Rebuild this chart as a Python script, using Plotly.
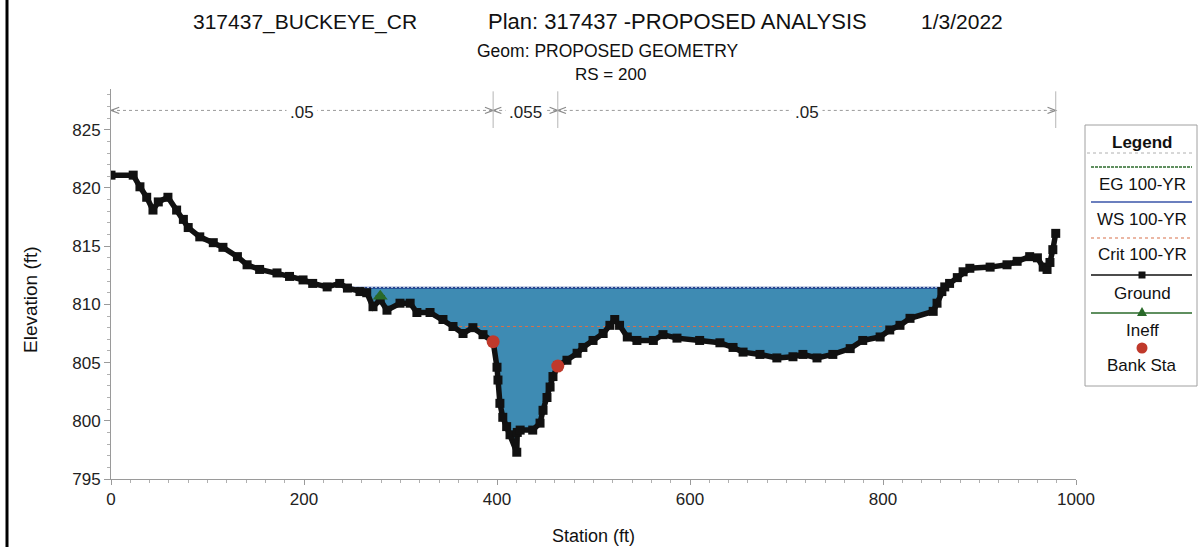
import numpy as np
import plotly.graph_objects as go

# ---- Cross-section data (RS = 200) ----
station = [0, 23, 30, 37, 43.5, 49, 59, 68, 75, 80, 92, 106, 116, 131, 141, 154, 172, 185,
           199, 209, 224, 237, 245, 258, 265, 271.5, 279, 286, 299.5, 310, 317, 330.6, 344,
           354.4, 364.8, 375, 385.5, 396, 400, 401, 403, 406, 410, 413.5, 420.5, 421, 424,
           437, 444.6, 447.7, 451.8, 455, 458, 463, 472.5, 483, 489, 499.5, 510, 517, 522,
           527, 535, 545, 562, 572, 586.5, 610, 631, 644.6, 655, 672.5, 690, 706.7, 717,
           731.6, 748, 766, 779, 797, 807, 817.6, 828, 852, 856, 861, 864, 869, 877, 883,
           890, 911, 928.5, 939, 952, 960, 966, 970, 973, 976, 979]
ground = [821.1, 821.1, 820.1, 819.2, 818.1, 818.8, 819.2, 818.1, 817.3, 816.6, 815.8, 815.3,
          814.9, 814.1, 813.4, 813.0, 812.7, 812.4, 812.1, 811.8, 811.5, 811.8, 811.4, 811.1,
          811.0, 809.8, 810.4, 809.5, 810.1, 810.1, 809.3, 809.3, 808.7, 808.1, 807.5, 808.0,
          807.4, 806.8, 804.6, 803.5, 801.5, 800.3, 799.5, 798.8, 797.3, 799.0, 799.2, 799.2,
          799.8, 800.9, 802.0, 802.9, 803.8, 804.7, 805.2, 805.8, 806.3, 806.9, 807.5, 808.2,
          808.7, 808.2, 807.2, 806.9, 806.9, 807.4, 807.1, 806.9, 806.7, 806.3, 805.9, 805.7,
          805.4, 805.5, 805.7, 805.4, 805.7, 806.2, 806.9, 807.2, 807.8, 808.2, 808.8, 809.4,
          810.1, 811.1, 811.5, 811.8, 812.3, 812.8, 813.1, 813.2, 813.4, 813.7, 814.1, 814.0,
          813.2, 813.0, 813.6, 814.7, 816.1]

bank_sta = [396, 463]
bank_elev = [806.8, 804.7]
ineff_sta = [279]
ineff_elev = [810.7]

ws_elev = 811.42     # WS 100-YR
eg_elev = 811.47     # EG 100-YR
crit_elev = 808.1    # Crit 100-YR

n_values = [".05", ".055", ".05"]

title_left = "317437_BUCKEYE_CR"
title_mid = "Plan: 317437 -PROPOSED ANALYSIS"
title_right = "1/3/2022"
subtitle1 = "Geom: PROPOSED GEOMETRY"
subtitle2 = "RS = 200"

st = np.array(station, dtype=float)
gz = np.array(ground, dtype=float)


def wetted_limits(level):
    """Left/right stations where the ground crosses a given level."""
    idx = np.where(gz < level)[0]
    i0, i1 = idx[0], idx[-1]
    xl = np.interp(level, [gz[i0], gz[i0 - 1]], [st[i0], st[i0 - 1]])
    xr = np.interp(level, [gz[i1], gz[i1 + 1]], [st[i1], st[i1 + 1]])
    return i0, i1, xl, xr


i0, i1, ws_l, ws_r = wetted_limits(ws_elev)
_, _, cr_l, cr_r = wetted_limits(crit_elev)

water_x = [ws_l] + list(st[i0:i1 + 1]) + [ws_r]
water_y = [ws_elev] + list(gz[i0:i1 + 1]) + [ws_elev]

FONT = "Liberation Sans, Arial, sans-serif"
WATER = "#3e8bb3"
WS_COLOR = "#1f3f8f"
EG_COLOR = "#2d6b2d"
CRIT_COLOR = "#d8704a"
GROUND_COLOR = "#111111"
INEFF_COLOR = "#2a6a2a"
BANK_COLOR = "#c0392b"

fig = go.Figure()

# water area
fig.add_trace(go.Scatter(x=water_x, y=water_y, fill="toself", fillcolor=WATER,
                         line=dict(width=0), mode="lines", hoverinfo="skip"))
# critical depth line
fig.add_trace(go.Scatter(x=[cr_l, cr_r], y=[crit_elev, crit_elev], mode="lines",
                         line=dict(color=CRIT_COLOR, width=1.2, dash="dot")))
# water surface
fig.add_trace(go.Scatter(x=[ws_l, ws_r], y=[ws_elev, ws_elev], mode="lines",
                         line=dict(color=WS_COLOR, width=2)))
# energy grade
fig.add_trace(go.Scatter(x=[ws_l, ws_r], y=[eg_elev, eg_elev], mode="lines",
                         line=dict(color="#dfe8f0", width=1, dash="2px,2px")))
# ground
fig.add_trace(go.Scatter(x=station, y=ground, mode="lines+markers",
                         line=dict(color=GROUND_COLOR, width=5.5),
                         marker=dict(symbol="square", size=9, color=GROUND_COLOR)))
# ineffective flow marker
fig.add_trace(go.Scatter(x=ineff_sta, y=ineff_elev, mode="markers",
                         marker=dict(symbol="triangle-up", size=13, color=INEFF_COLOR)))
# bank stations
fig.add_trace(go.Scatter(x=bank_sta, y=bank_elev, mode="markers",
                         marker=dict(symbol="circle", size=13, color=BANK_COLOR)))

# ---- Manning's n bands above the section ----
bounds = [station[0]] + bank_sta + [station[-1]]
y_line = 826.66
y_txt = 826.46
dxh = 8.5     # chevron length (ft)
dyh = 0.27    # chevron half-height (ft)
shapes = []
annotations = []
for k, nv in enumerate(n_values):
    a, b = bounds[k], bounds[k + 1]
    shapes.append(dict(type="line", xref="x", yref="y", x0=a, x1=b, y0=y_line, y1=y_line,
                       line=dict(color="#9a9a9a", width=1, dash="dot")))
    shapes.append(dict(type="path", xref="x", yref="y",
                       path=f"M {a + dxh},{y_line + dyh} L {a},{y_line} L {a + dxh},{y_line - dyh}",
                       line=dict(color="#8a8a8a", width=1.2)))
    shapes.append(dict(type="path", xref="x", yref="y",
                       path=f"M {b - dxh},{y_line + dyh} L {b},{y_line} L {b - dxh},{y_line - dyh}",
                       line=dict(color="#8a8a8a", width=1.2)))
    annotations.append(dict(x=(a + b) / 2, y=y_txt, xref="x", yref="y", text=nv,
                            showarrow=False, bgcolor="white", borderpad=3,
                            font=dict(family=FONT, size=17, color="#222")))
for b in bounds[1:]:
    shapes.append(dict(type="line", xref="x", yref="y", x0=b, x1=b, y0=825.15, y1=828.3,
                       line=dict(color="#b5b5b5", width=1)))

# ---- pixel helpers for paper-positioned items ----
L, R, T, B = 111, 126, 89, 68
W, H = 1202, 547
PW, PH = W - L - R, H - T - B


def px(p):
    return (p - L) / PW


def py(p):
    return (H - B - p) / PH


# left frame line
shapes.append(dict(type="line", xref="paper", yref="paper", x0=px(7), x1=px(7),
                   y0=py(0), y1=py(547), line=dict(color="black", width=3)))

# ---- legend panel ----
shapes.append(dict(type="rect", xref="paper", yref="paper", x0=px(1085), x1=px(1197),
                   y0=py(125), y1=py(386), line=dict(color="#a0a0a0", width=1),
                   fillcolor="white"))
shapes.append(dict(type="line", xref="paper", yref="paper", x0=px(1087), x1=px(1195),
                   y0=py(153), y1=py(153), line=dict(color="#b0b0b0", width=1, dash="dot")))
lx0, lx1, lxc = 1091, 1192, 1142
legend_items = [
    ("EG 100-YR", 167, 184, dict(color=EG_COLOR, width=1.5, dash="3px,1px"), None),
    ("WS 100-YR", 202, 219, dict(color="#3a55a8", width=1.5), None),
    ("Crit 100-YR", 238, 254, dict(color=CRIT_COLOR, width=1.2, dash="dot"), None),
    ("Ground", 275, 293, dict(color=GROUND_COLOR, width=1.5), "square"),
    ("Ineff", 313, 330, dict(color=INEFF_COLOR, width=1.5), "triangle"),
    ("Bank Sta", 348, 365, None, "circle"),
]
for name, ly, ty, lstyle, sym in legend_items:
    if lstyle is not None:
        shapes.append(dict(type="line", xref="paper", yref="paper", x0=px(lx0), x1=px(lx1),
                           y0=py(ly), y1=py(ly), line=lstyle))
    if sym == "square":
        shapes.append(dict(type="rect", xref="paper", yref="paper", x0=px(lxc - 3.5),
                           x1=px(lxc + 3.5), y0=py(ly - 3.5), y1=py(ly + 3.5),
                           fillcolor=GROUND_COLOR, line=dict(width=0)))
    elif sym == "triangle":
        shapes.append(dict(type="path", xref="paper", yref="paper",
                           path=f"M {px(lxc - 5)},{py(ly + 3)} L {px(lxc + 5)},{py(ly + 3)} "
                                f"L {px(lxc)},{py(ly - 6)} Z",
                           fillcolor=INEFF_COLOR, line=dict(width=0)))
    elif sym == "circle":
        shapes.append(dict(type="circle", xref="paper", yref="paper", x0=px(lxc - 5.5),
                           x1=px(lxc + 5.5), y0=py(ly - 5.5), y1=py(ly + 5.5),
                           fillcolor=BANK_COLOR, line=dict(width=0)))
    annotations.append(dict(x=px(lxc), y=py(ty), xref="paper", yref="paper", text=name,
                            showarrow=False, xanchor="center", yanchor="middle",
                            font=dict(family=FONT, size=17, color="#111")))
annotations.append(dict(x=px(lxc), y=py(142), xref="paper", yref="paper", text="<b>Legend</b>",
                        showarrow=False, xanchor="center", yanchor="middle",
                        font=dict(family=FONT, size=17, color="#111")))

# ---- titles ----
for txt, xc, yc, sz in [(title_left, 305, 22, 21), (title_mid, 677, 22, 22),
                        (title_right, 962, 22, 21), (subtitle1, 608, 51, 17.5),
                        (subtitle2, 610, 75, 17)]:
    annotations.append(dict(x=px(xc), y=py(yc), xref="paper", yref="paper", text=txt,
                            showarrow=False, xanchor="center", yanchor="middle",
                            font=dict(family=FONT, size=sz, color="#111")))

# axis titles
annotations.append(dict(x=px(593), y=py(536), xref="paper", yref="paper", text="Station (ft)",
                        showarrow=False, xanchor="center", yanchor="middle",
                        font=dict(family=FONT, size=18, color="#111")))
annotations.append(dict(x=px(30), y=py(300), xref="paper", yref="paper", text="Elevation (ft)",
                        showarrow=False, xanchor="center", yanchor="middle", textangle=-90,
                        font=dict(family=FONT, size=19, color="#111")))

fig.update_layout(
    width=W, height=H,
    margin=dict(l=L, r=R, t=T, b=B, pad=0),
    paper_bgcolor="white", plot_bgcolor="white",
    showlegend=False,
    shapes=shapes, annotations=annotations,
    font=dict(family=FONT, size=16, color="#222"),
)
fig.update_xaxes(range=[0, 1000], tickvals=[0, 200, 400, 600, 800, 1000],
                 showgrid=False, zeroline=False, showline=True, linecolor="#9a9a9a",
                 linewidth=1, ticks="outside", ticklen=5, tickcolor="#9a9a9a",
                 minor=dict(dtick=20, tick0=0, ticks="outside", ticklen=3, tickcolor="#b0b0b0"),
                 tickfont=dict(family=FONT, size=17, color="#222"))
fig.update_yaxes(range=[795, 828.5], tickvals=[795, 800, 805, 810, 815, 820, 825],
                 showgrid=False, zeroline=False, showline=True, linecolor="#9a9a9a",
                 linewidth=1, ticks="outside", ticklen=6, tickcolor="#9a9a9a",
                 minor=dict(dtick=1, tick0=795, ticks="outside", ticklen=3, tickcolor="#b0b0b0"),
                 tickfont=dict(family=FONT, size=17, color="#222"))

fig.write_html("out.html")
